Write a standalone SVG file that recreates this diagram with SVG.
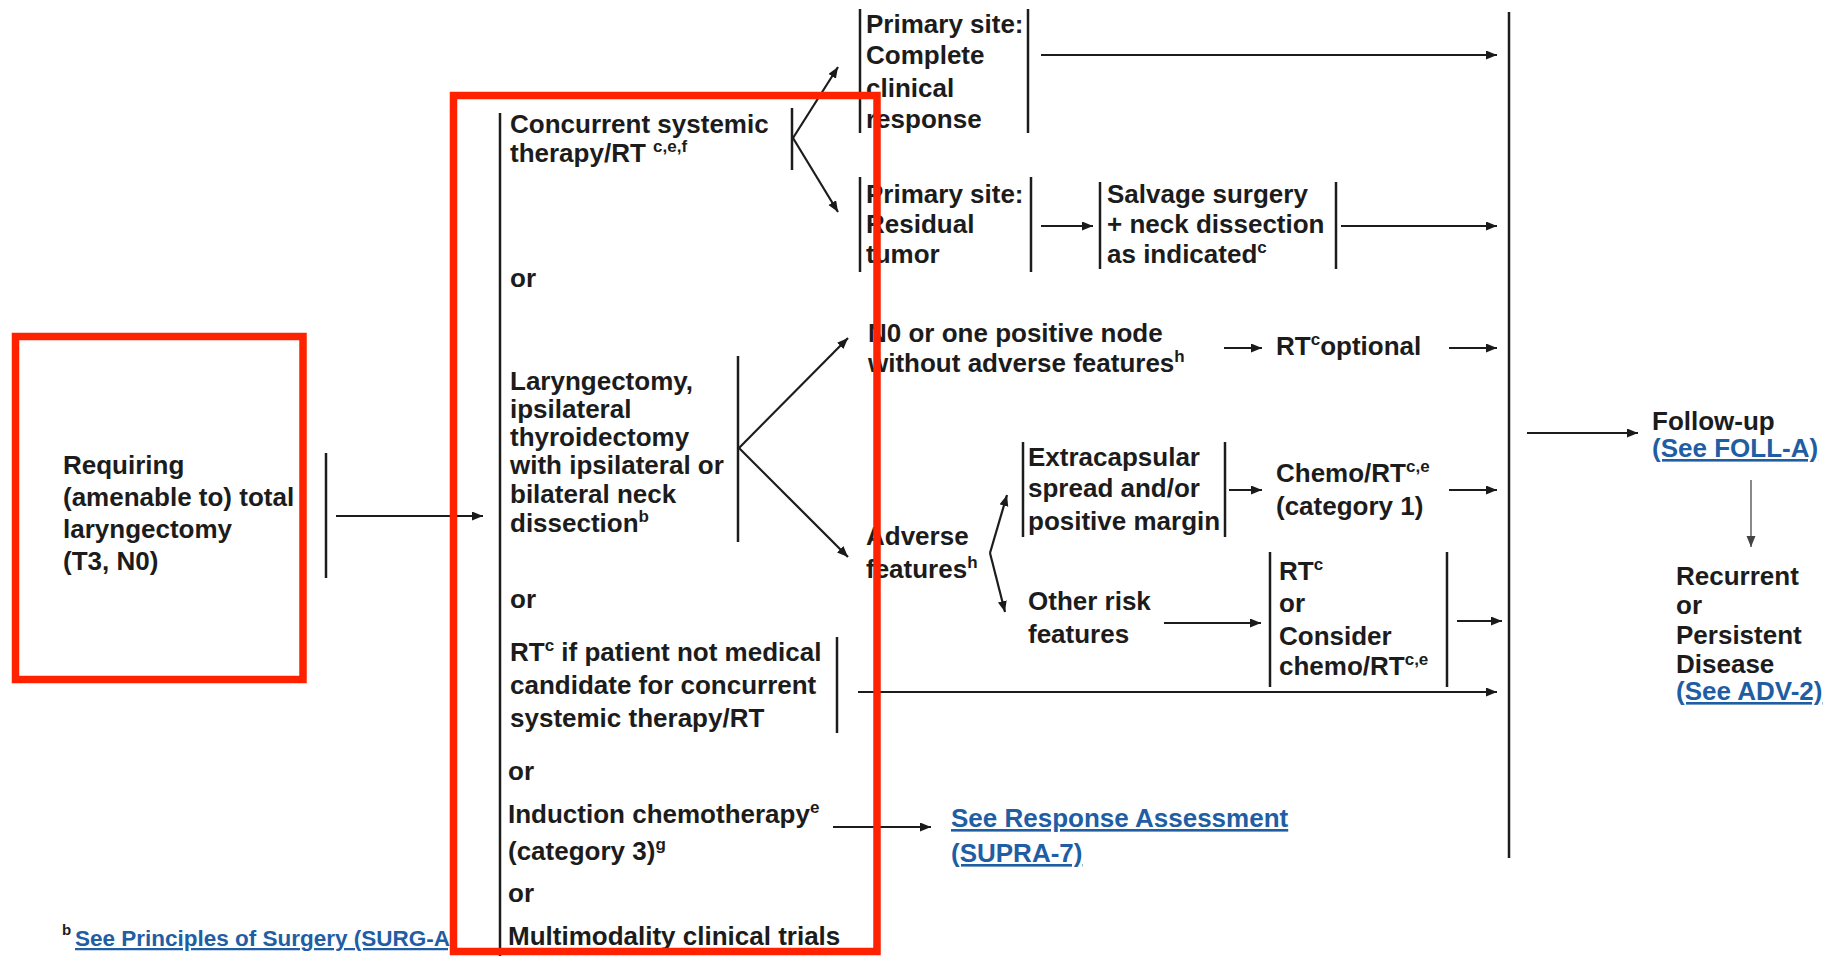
<svg xmlns="http://www.w3.org/2000/svg" width="1830" height="956" viewBox="0 0 1830 956">
<defs>
<marker id="ah" markerUnits="userSpaceOnUse" markerWidth="12" markerHeight="10" refX="11" refY="4.5" orient="auto"><path d="M0,0 L11,4.5 L0,9 z" fill="#1a1a1a"/></marker>
<marker id="ahg" markerUnits="userSpaceOnUse" markerWidth="12" markerHeight="10" refX="11" refY="4.5" orient="auto"><path d="M0,0 L11,4.5 L0,9 z" fill="#444"/></marker>
<style>
.t{font-family:"Liberation Sans",Arial,sans-serif;font-weight:bold;font-size:26px;fill:#1c1c1c}
.s{font-size:17px}
.lk{fill:#1f5ea3;text-decoration:underline}
.bar{stroke:#1c1c1c;stroke-width:2.5;fill:none}
.c{stroke:#1c1c1c;stroke-width:2.2;fill:none;marker-end:url(#ah)}
.cg{stroke:#888;stroke-width:2;fill:none;marker-end:url(#ahg)}
.hl{fill:none;stroke:#ff2200;stroke-width:7.5}
</style>
</defs>
<rect width="1830" height="956" fill="#fff"/>

<g id="n-requiring" class="t">
<text x="63" y="474">Requiring</text>
<text x="63" y="506">(amenable to) total</text>
<text x="63" y="538">laryngectomy</text>
<text x="63" y="570">(T3, N0)</text>
<line class="bar" x1="326" y1="453" x2="326" y2="578"/>
</g>

<g id="n-options-bracket"><line class="bar" x1="500" y1="113" x2="500" y2="956"/></g>

<g id="n-concurrent" class="t">
<text x="510" y="133">Concurrent systemic</text>
<text x="510" y="162">therapy/RT <tspan class="s" dy="-10">c,e,f</tspan></text>
<line class="bar" x1="792" y1="108" x2="792" y2="170"/>
</g>

<g id="or-labels" class="t">
<text x="510" y="287">or</text>
<text x="510" y="608">or</text>
<text x="508" y="780">or</text>
<text x="508" y="902">or</text>
</g>

<g id="n-laryngectomy" class="t">
<text x="510" y="390">Laryngectomy,</text>
<text x="510" y="418">ipsilateral</text>
<text x="510" y="446">thyroidectomy</text>
<text x="510" y="474">with ipsilateral or</text>
<text x="510" y="503">bilateral neck</text>
<text x="510" y="532">dissection<tspan class="s" dy="-10">b</tspan></text>
<line class="bar" x1="738" y1="356" x2="738" y2="542"/>
</g>

<g id="n-rt-noncandidate" class="t">
<text x="510" y="661">RT<tspan class="s" dy="-10">c</tspan><tspan dy="10"> if patient not medical</tspan></text>
<text x="510" y="694">candidate for concurrent</text>
<text x="510" y="727">systemic therapy/RT</text>
<line class="bar" x1="837" y1="637" x2="837" y2="733"/>
</g>

<g id="n-induction" class="t">
<text x="508" y="823">Induction chemotherapy<tspan class="s" dy="-10">e</tspan></text>
<text x="508" y="860">(category 3)<tspan class="s" dy="-10">g</tspan></text>
</g>

<g id="n-trials" class="t"><text x="508" y="945">Multimodality clinical trials</text></g>

<g id="n-complete" class="t">
<text x="866" y="33">Primary site:</text>
<text x="866" y="64">Complete</text>
<text x="866" y="97">clinical</text>
<text x="866" y="128">response</text>
<line class="bar" x1="860" y1="9" x2="860" y2="133"/>
<line class="bar" x1="1028" y1="9" x2="1028" y2="133"/>
</g>

<g id="n-residual" class="t">
<text x="866" y="203">Primary site:</text>
<text x="866" y="233">Residual</text>
<text x="866" y="263">tumor</text>
<line class="bar" x1="860" y1="177" x2="860" y2="272"/>
<line class="bar" x1="1031" y1="177" x2="1031" y2="272"/>
</g>

<g id="n-salvage" class="t">
<text x="1107" y="203">Salvage surgery</text>
<text x="1107" y="233">+ neck dissection</text>
<text x="1107" y="263">as indicated<tspan class="s" dy="-10">c</tspan></text>
<line class="bar" x1="1100" y1="182" x2="1100" y2="269"/>
<line class="bar" x1="1336" y1="182" x2="1336" y2="269"/>
</g>

<g id="n-n0" class="t">
<text x="868" y="342">N0 or one positive node</text>
<text x="868" y="372">without adverse features<tspan class="s" dy="-10">h</tspan></text>
</g>

<g id="n-rt-optional" class="t"><text x="1276" y="355">RT<tspan class="s" dy="-10">c</tspan><tspan dy="10">optional</tspan></text></g>

<g id="n-adverse" class="t">
<text x="866" y="545">Adverse</text>
<text x="866" y="578">features<tspan class="s" dy="-10">h</tspan></text>
</g>

<g id="n-extracapsular" class="t">
<text x="1028" y="466">Extracapsular</text>
<text x="1028" y="497">spread and/or</text>
<text x="1028" y="530">positive margin</text>
<line class="bar" x1="1023" y1="442" x2="1023" y2="537"/>
<line class="bar" x1="1225" y1="442" x2="1225" y2="537"/>
</g>

<g id="n-chemo-rt" class="t">
<text x="1276" y="482">Chemo/RT<tspan class="s" dy="-10">c,e</tspan></text>
<text x="1276" y="515">(category 1)</text>
</g>

<g id="n-other-risk" class="t">
<text x="1028" y="610">Other risk</text>
<text x="1028" y="643">features</text>
</g>

<g id="n-rt-or-chemo" class="t">
<text x="1279" y="580">RT<tspan class="s" dy="-10">c</tspan></text>
<text x="1279" y="612">or</text>
<text x="1279" y="645">Consider</text>
<text x="1279" y="675">chemo/RT<tspan class="s" dy="-10">c,e</tspan></text>
<line class="bar" x1="1270" y1="552" x2="1270" y2="687"/>
<line class="bar" x1="1447" y1="552" x2="1447" y2="687"/>
</g>

<g id="n-merge"><line class="bar" x1="1509" y1="12" x2="1509" y2="858"/></g>

<g id="n-followup" class="t">
<text x="1652" y="430">Follow-up</text>
<text x="1652" y="457" class="lk">(See FOLL-A)</text>
</g>

<g id="n-recurrent" class="t">
<text x="1676" y="585">Recurrent</text>
<text x="1676" y="614">or</text>
<text x="1676" y="644">Persistent</text>
<text x="1676" y="673">Disease</text>
<text x="1676" y="700" class="lk">(See ADV-2)</text>
</g>

<g id="n-response" class="t">
<text x="951" y="827" class="lk">See Response Assessment</text>
<text x="951" y="862" class="lk">(SUPRA-7)</text>
</g>

<g id="footnote" class="t">
<text x="62" y="935" style="font-size:15px">b</text>
<text x="75" y="946" class="lk" style="font-size:22.5px">See Principles of Surgery (SURG-A)</text>
</g>

<g id="connectors">
<line class="c" x1="336" y1="516" x2="483" y2="516"/>
<line class="c" x1="793" y1="138" x2="838" y2="67"/>
<line class="c" x1="793" y1="138" x2="838" y2="212"/>
<line class="c" x1="1041" y1="55" x2="1497" y2="55"/>
<line class="c" x1="1041" y1="226" x2="1093" y2="226"/>
<line class="c" x1="1341" y1="226" x2="1497" y2="226"/>
<line class="c" x1="739" y1="448" x2="848" y2="338"/>
<line class="c" x1="739" y1="448" x2="848" y2="557"/>
<line class="c" x1="1224" y1="348" x2="1262" y2="348"/>
<line class="c" x1="1449" y1="348" x2="1497" y2="348"/>
<line class="c" x1="990" y1="553" x2="1007" y2="495"/>
<line class="c" x1="990" y1="553" x2="1005" y2="612"/>
<line class="c" x1="1229" y1="490" x2="1262" y2="490"/>
<line class="c" x1="1449" y1="490" x2="1497" y2="490"/>
<line class="c" x1="1164" y1="623" x2="1261" y2="623"/>
<line class="c" x1="1457" y1="621" x2="1502" y2="621"/>
<line class="c" x1="858" y1="692" x2="1497" y2="692"/>
<line class="c" x1="833" y1="827" x2="931" y2="827"/>
<line class="c" x1="1527" y1="433" x2="1638" y2="433"/>
<line class="cg" x1="1751" y1="480" x2="1751" y2="547"/>
</g>

<g id="highlights">
<rect class="hl" x="15.5" y="336.5" width="287.5" height="343"/>
<rect class="hl" x="453.5" y="95.5" width="423.5" height="856"/>
</g>
</svg>
